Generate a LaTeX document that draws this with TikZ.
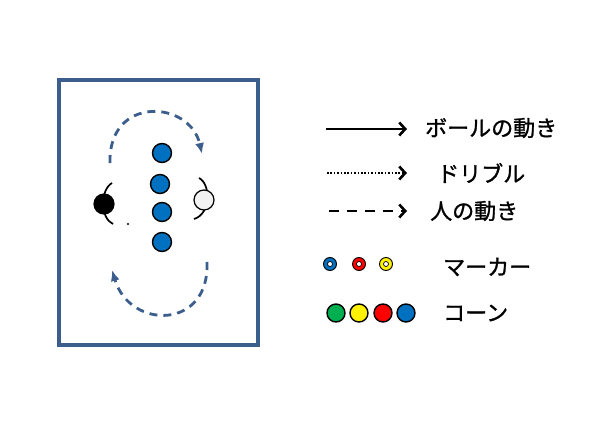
\documentclass[tikz,border=0pt]{standalone}
\usepackage{fontspec}
\newfontfamily\jpfont[FakeBold=1.2]{Noto Sans CJK JP}
\usetikzlibrary{arrows.meta}
\definecolor{frameblue}{RGB}{59,94,140}
\definecolor{coneblue}{RGB}{0,112,192}
\definecolor{conegreen}{RGB}{0,176,80}
\definecolor{whiteball}{RGB}{242,242,242}
\tikzset{
  cone/.style={circle,draw=black,line width=1.4pt,minimum size=19pt,inner sep=0pt},
  marker/.style={circle,draw=black,line width=0.9pt,minimum size=13pt,inner sep=0pt},
  markerhole/.style={circle,draw=black,fill=white,line width=0.7pt,minimum size=5pt,inner sep=0pt},
  ball/.style={circle,draw=black,line width=1.2pt,minimum size=20pt,inner sep=0pt},
  legendtext/.style={font=\jpfont\fontsize{22pt}{24pt}\selectfont,anchor=west,inner sep=0pt},
  runpath/.style={draw=frameblue,line width=2.8pt,dash pattern=on 8pt off 6pt,-{Latex[length=11pt,width=9pt]}},
  legarrow/.style={line width=2.2pt,-{Straight Barb[length=6pt,width=13pt,line width=2.6pt]}},
  bodyarc/.style={line width=1.7pt}
}
\begin{document}
\begin{tikzpicture}[x=1pt,y=-1pt]
\useasboundingbox (0,0) rectangle (612,425);
% field
\draw[frameblue,line width=3.2pt] (59,80) rectangle (258,345);
% cones
\node[cone,fill=coneblue] (c1) at (162,153) {};
\node[cone,fill=coneblue] (c2) at (160,184) {};
\node[cone,fill=coneblue] (c3) at (162,212) {};
\node[cone,fill=coneblue] (c4) at (162,242) {};
% players
\draw[bodyarc] (112,183) .. controls (100,190) and (100,218) .. (113,224);
\node[ball,fill=black] (p1) at (104,204) {};
\draw[bodyarc] (199,178) .. controls (211,184) and (211,214) .. (194,219);
\node[ball,fill=whiteball] (p2) at (204,200) {};
\fill (128,224) circle (1.1pt);
% runs
\coordinate (t0) at (110,163);
\coordinate (t1) at (202,154);
\coordinate (b0) at (207,262);
\coordinate (b1) at (112,270);
\draw[runpath] (t0) .. controls (108,95) and (190,100) .. (t1);
\draw[runpath] (b0) .. controls (210,330) and (130,330) .. (b1);
% legend
\coordinate (l1a) at (326,129); \coordinate (l1b) at (407,129);
\coordinate (l2a) at (327,173); \coordinate (l2b) at (407,173);
\coordinate (l3a) at (329,211); \coordinate (l3b) at (407,211);
\draw[legarrow] (l1a) -- (l1b);
\draw[legarrow,line width=2.4pt,dash pattern=on 1.6pt off 1.8pt] (l2a) -- (l2b);
\draw[legarrow,dash pattern=on 10pt off 8pt] (l3a) -- (l3b);
\node[legendtext] (t1) at (425,128) {ボールの動き};
\node[legendtext] (t2) at (437,173) {ドリブル};
\node[legendtext] (t3) at (430,211) {人の動き};
% markers
\node[marker,fill=coneblue] (m1) at (330,264) {};
\node[marker,fill=red] (m2) at (359,264) {};
\node[marker,fill=yellow] (m3) at (386,264) {};
\node[markerhole] at (m1) {};
\node[markerhole] at (m2) {};
\node[markerhole] at (m3) {};
\node[legendtext] (t4) at (443,267) {マーカー};
% cones legend
\node[cone,fill=conegreen,minimum size=18pt] (k1) at (336,313) {};
\node[cone,fill=yellow,minimum size=18pt] (k2) at (359,313) {};
\node[cone,fill=red,minimum size=18pt] (k3) at (383,313) {};
\node[cone,fill=coneblue,minimum size=18pt] (k4) at (406,313) {};
\node[legendtext] (t5) at (443,313) {コーン};
\end{tikzpicture}
\end{document}
